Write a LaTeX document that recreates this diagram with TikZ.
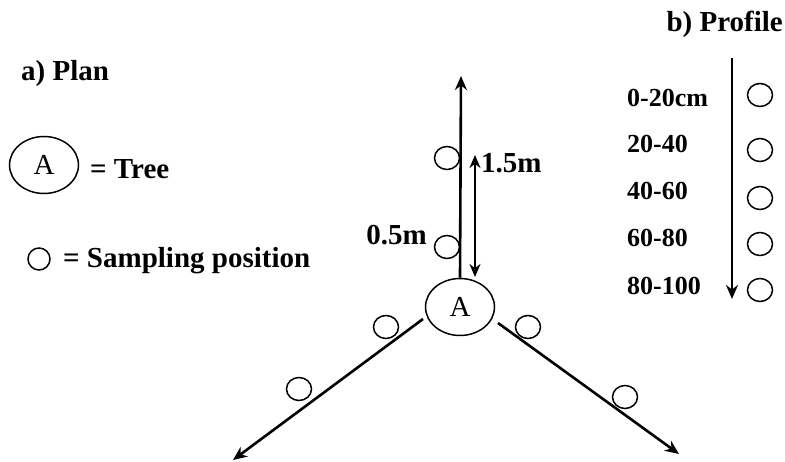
\documentclass[tikz,border=0pt]{standalone}
\usepackage{fontspec}
\setmainfont{Liberation Serif}
\usetikzlibrary{arrows.meta,shapes.geometric}
\begin{document}
\begin{tikzpicture}[x=1pt,y=-1pt,
  samp/.style={draw,line width=1.5pt,ellipse,minimum width=25pt,minimum height=23pt,inner sep=0pt},
  tree/.style={draw,line width=1.5pt,ellipse,minimum width=69pt,minimum height=57pt,inner sep=0pt,font=\fontsize{29}{32}\selectfont},
  lbl/.style={font=\fontsize{29}{34}\selectfont\bfseries,inner sep=0pt},
  plbl/.style={font=\fontsize{26}{30}\selectfont\bfseries,inner sep=0pt,anchor=west},
  arr/.style={line width=2.6pt,-{Stealth[length=14pt,width=12pt]}},
  darr/.style={line width=2.3pt,{Stealth[length=13pt,width=11pt]}-{Stealth[length=13pt,width=11pt]}}]
\useasboundingbox (0,0) rectangle (785,462);
% legend
\node[lbl,anchor=west] (plan) at (21,74) {a) Plan};
\node[tree] (legA) at (44,165) {A};
\node[lbl,anchor=west] (treetxt) at (90,169) {= Tree};
\node[samp,minimum width=22pt,minimum height=22pt] (legS) at (39,259) {};
\node[lbl,anchor=west] (samptxt) at (63,261) {= Sampling position};
% plan
\node[tree] (A) at (460,307) {A};
\coordinate (N) at (461,76);
\draw[arr] (A.north) -- (N);
\node[samp] (s1) at (447,158) {};
\node[samp] (s2) at (447,247) {};
\coordinate (d1) at (475,155);
\coordinate (d2) at (475,277);
\draw[darr] (d1) -- (d2);
\node[lbl,anchor=west] (l15) at (481,163) {1.5m};
\node[lbl,anchor=east] (l05) at (427,235) {0.5m};
\coordinate (L0) at (423,319);
\coordinate (L1) at (233,460);
\draw[arr] (L0) -- (L1);
\coordinate (R0) at (498,323);
\coordinate (R1) at (679,454);
\draw[arr] (R0) -- (R1);
\node[samp] (s3) at (386,327) {};
\node[samp] (s4) at (299,389) {};
\node[samp] (s5) at (528,327) {};
\node[samp] (s6) at (625,397) {};
% profile
\node[lbl,anchor=east] (prof) at (783,24) {b) Profile};
\coordinate (P0) at (732,58);
\coordinate (P1) at (732,299);
\draw[arr,line width=2.2pt] (P0) -- (P1);
\node[plbl] (p1) at (627,98) {0-20cm};
\node[plbl] (p2) at (627,144) {20-40};
\node[plbl] (p3) at (627,191) {40-60};
\node[plbl] (p4) at (627,238) {60-80};
\node[plbl] (p5) at (627,286) {80-100};
\node[samp] (c1) at (760,95) {};
\node[samp] (c2) at (760,150) {};
\node[samp] (c3) at (760,198) {};
\node[samp] (c4) at (760,244) {};
\node[samp] (c5) at (760,290) {};
\end{tikzpicture}
\end{document}
